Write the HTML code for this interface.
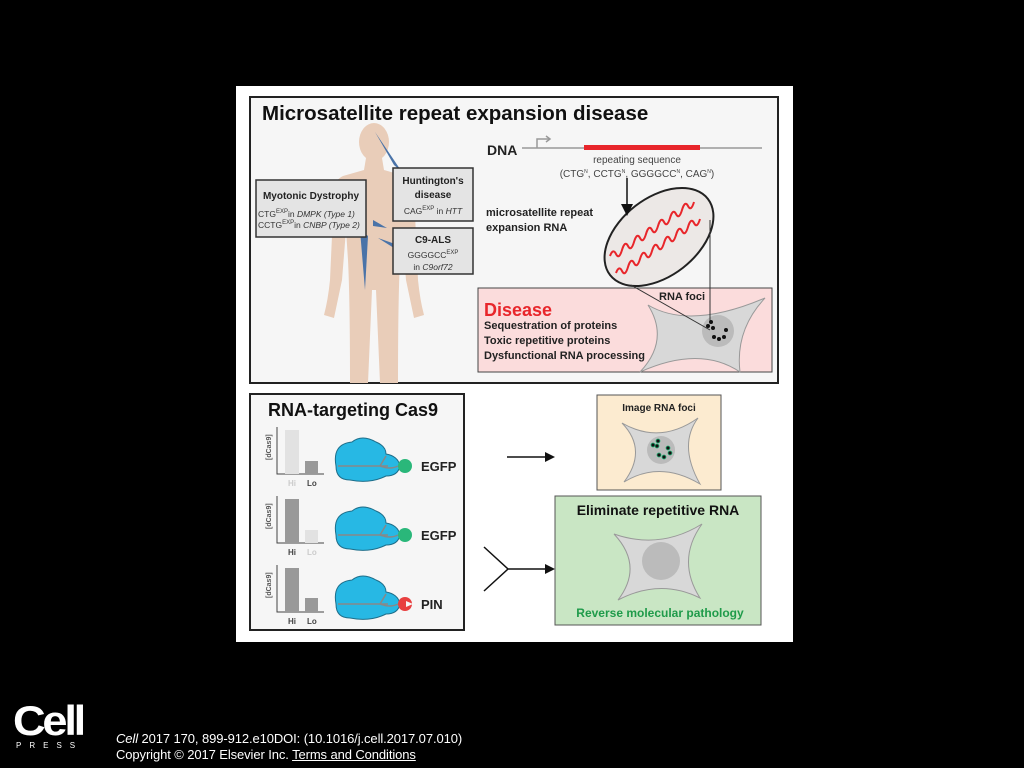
<!DOCTYPE html>
<html><head><meta charset="utf-8"><style>
html,body{margin:0;padding:0;background:#000;width:1024px;height:768px;overflow:hidden}
svg{position:absolute;left:0;top:0}
text{font-family:"Liberation Sans",Arial,sans-serif}
.ft{position:absolute;font-family:"Liberation Sans",Arial,sans-serif;color:#fff;font-size:13px;letter-spacing:-0.1px}
</style></head><body>
<svg width="1024" height="768" viewBox="0 0 1024 768">
<rect x="236" y="86" width="557" height="556" fill="#fff"/>
<rect x="250" y="97" width="528" height="286" fill="#f6f6f6" stroke="#222" stroke-width="2"/>
<text x="262" y="120" font-size="20.5" font-weight="bold" fill="#111">Microsatellite repeat expansion disease</text>
<g fill="#e9cdb9">
<ellipse cx="374" cy="142" rx="15" ry="19"/>
<path d="M366,158 L382,158 L384,170 L405,176 Q414,180 414,192 L418,280 Q420,300 424,315 L414,318 L406,280 L402,230 L400,260 Q398,300 398,383 L380,383 L376,290 L372,290 L368,383 L350,383 Q350,300 348,260 L346,230 L342,280 L334,318 L324,315 Q328,300 330,280 L334,192 Q334,180 343,176 L364,170 Z"/>
</g>
<g fill="#4a73a8">
<polygon points="375,132 394,165 402,172"/>
<polygon points="373,220 387,228 373,226"/>
<polygon points="378,238 395,244 394,248"/>
<polygon points="360,230 368,236 365,290"/>
</g>
<rect x="256" y="180" width="110" height="57" fill="#e4e4e4" stroke="#333" stroke-width="1.5"/>
<text x="311" y="199" font-size="10" font-weight="bold" text-anchor="middle" fill="#222">Myotonic Dystrophy</text>
<text x="258" y="217" font-size="8.5" fill="#333">CTG<tspan font-size="6" dy="-4">EXP</tspan><tspan dy="4">in </tspan><tspan font-style="italic">DMPK (Type 1)</tspan></text>
<text x="258" y="228" font-size="8.5" fill="#333">CCTG<tspan font-size="6" dy="-4">EXP</tspan><tspan dy="4">in </tspan><tspan font-style="italic">CNBP (Type 2)</tspan></text>
<rect x="393" y="168" width="80" height="53" fill="#e4e4e4" stroke="#333" stroke-width="1.5"/>
<text x="433" y="184" font-size="10" font-weight="bold" text-anchor="middle" fill="#222">Huntington's</text>
<text x="433" y="198" font-size="10" font-weight="bold" text-anchor="middle" fill="#222">disease</text>
<text x="433" y="214" font-size="8.5" text-anchor="middle" fill="#333">CAG<tspan font-size="6" dy="-4">EXP</tspan><tspan dy="4"> in </tspan><tspan font-style="italic">HTT</tspan></text>
<rect x="393" y="228" width="80" height="46" fill="#e4e4e4" stroke="#333" stroke-width="1.5"/>
<text x="433" y="243" font-size="10" font-weight="bold" text-anchor="middle" fill="#222">C9-ALS</text>
<text x="433" y="258" font-size="8.5" text-anchor="middle" fill="#333">GGGGCC<tspan font-size="6" dy="-4">EXP</tspan></text>
<text x="433" y="270" font-size="8.5" text-anchor="middle" fill="#333">in <tspan font-style="italic">C9orf72</tspan></text>
<text x="487" y="155" font-size="14" font-weight="bold" fill="#222">DNA</text>
<line x1="522" y1="148" x2="762" y2="148" stroke="#999" stroke-width="1.5"/>
<path d="M537,148 V139 H549" fill="none" stroke="#999" stroke-width="1.5"/>
<path d="M546,136 L550,139 L546,142" fill="none" stroke="#999" stroke-width="1.5"/>
<rect x="584" y="145" width="116" height="5" fill="#e8262b"/>
<text x="637" y="163" font-size="10" text-anchor="middle" fill="#444">repeating sequence</text>
<text x="637" y="177" font-size="10" text-anchor="middle" fill="#444">(CTG<tspan font-size="5" dy="-4">N</tspan><tspan dy="4">, CCTG</tspan><tspan font-size="5" dy="-4">N</tspan><tspan dy="4">, GGGGCC</tspan><tspan font-size="5" dy="-4">N</tspan><tspan dy="4">, CAG</tspan><tspan font-size="5" dy="-4">N</tspan><tspan dy="4">)</tspan></text>
<text x="486" y="216" font-size="11" font-weight="bold" fill="#222">microsatellite repeat</text>
<text x="486" y="231" font-size="11" font-weight="bold" fill="#222">expansion RNA</text>
<rect x="478" y="288" width="294" height="84" fill="#fbdcdc" stroke="#444" stroke-width="1"/>
<text x="484" y="316" font-size="18" font-weight="bold" fill="#e8262b">Disease</text>
<text x="484" y="329" font-size="11" font-weight="bold" fill="#222">Sequestration of proteins</text>
<text x="484" y="344" font-size="11" font-weight="bold" fill="#222">Toxic repetitive proteins</text>
<text x="484" y="359" font-size="11" font-weight="bold" fill="#222">Dysfunctional RNA processing</text>
<text x="659" y="300" font-size="11" font-weight="bold" fill="#222">RNA foci</text>
<path d="M648,305 Q690,330 765,298 Q735,330 740,372 Q700,345 640,372 Q670,340 648,305 Z" fill="#d8d8d8" stroke="#999" stroke-width="1"/>
<circle cx="718" cy="331" r="16" fill="#bbb"/>
<ellipse cx="659" cy="237" rx="62" ry="39" transform="rotate(-38 659 237)" fill="#ece8e6" stroke="#222" stroke-width="2"/>
<path d="M610,256 q3,-8 6,-2 t6,-4 t6,-4 t6,-4 t6,-4 t6,-4 t6,-4 t6,-4 t6,-4 t6,-4 t6,-4 t6,-4 t6,-4 t6,-4" fill="none" stroke="#e8262b" stroke-width="2"/>
<path d="M616,273 q3,-8 6,-2 t6,-4 t6,-4 t6,-4 t6,-4 t6,-4 t6,-4 t6,-4 t6,-4 t6,-4 t6,-4 t6,-4 t6,-4 t6,-4" fill="none" stroke="#e8262b" stroke-width="2"/>
<line x1="627" y1="178" x2="627" y2="210" stroke="#111" stroke-width="1.5"/>
<path d="M621,204 L627,216 L633,204 Z" fill="#111"/>
<line x1="631" y1="285" x2="710" y2="330" stroke="#333" stroke-width="1"/>
<line x1="710" y1="220" x2="710" y2="322" stroke="#333" stroke-width="1"/>
<g fill="#111"><circle cx="711" cy="322" r="2"/><circle cx="708" cy="326" r="2"/><circle cx="713" cy="328" r="2"/><circle cx="726" cy="330" r="2"/><circle cx="714" cy="337" r="2"/><circle cx="719" cy="339" r="2"/><circle cx="724" cy="337" r="2"/></g>
<rect x="250" y="394" width="214" height="236" fill="#f6f6f6" stroke="#222" stroke-width="2"/>
<text x="268" y="416" font-size="18" font-weight="bold" fill="#111">RNA-targeting Cas9</text>
<g font-size="7" font-weight="bold" fill="#555">
<text transform="translate(271,460) rotate(-90)">[dCas9]</text>
<text transform="translate(271,529) rotate(-90)">[dCas9]</text>
<text transform="translate(271,598) rotate(-90)">[dCas9]</text>
</g>
<g stroke="#444" stroke-width="1" fill="none">
<path d="M277,427 V474 H324"/><path d="M277,496 V543 H324"/><path d="M277,565 V612 H324"/>
</g>
<rect x="285" y="430" width="14" height="44" fill="#e2e2e2"/><rect x="305" y="461" width="13" height="13" fill="#999"/>
<rect x="285" y="499" width="14" height="44" fill="#999"/><rect x="305" y="530" width="13" height="13" fill="#e2e2e2"/>
<rect x="285" y="568" width="14" height="44" fill="#999"/><rect x="305" y="598" width="13" height="14" fill="#999"/>
<g font-size="8" font-weight="bold">
<text x="288" y="486" fill="#ccc">Hi</text><text x="307" y="486" fill="#444">Lo</text>
<text x="288" y="555" fill="#444">Hi</text><text x="307" y="555" fill="#ccc">Lo</text>
<text x="288" y="624" fill="#444">Hi</text><text x="307" y="624" fill="#444">Lo</text>
</g>
<g id="cas">
<path d="M336,466 Q332,444 352,442 Q362,434 376,442 Q386,446 386,454 Q398,456 400,466 Q398,476 386,476 Q370,484 350,480 Q336,480 336,466 Z" fill="#27b8e4" stroke="#1e6e8a" stroke-width="1"/>
<path d="M338,466 H388 M380,466 L386,456 M380,466 Q390,470 398,466" fill="none" stroke="#888" stroke-width="1.5"/>
</g>
<use href="#cas" y="69"/><use href="#cas" y="138"/>
<circle cx="405" cy="466" r="7" fill="#2ab77a"/>
<circle cx="405" cy="535" r="7" fill="#2ab77a"/>
<circle cx="405" cy="604" r="7" fill="#e84040"/><path d="M406,601 L413,604 L406,607 Z" fill="#f6f6f6"/>
<g font-size="13" font-weight="bold" fill="#222">
<text x="421" y="471">EGFP</text><text x="421" y="540">EGFP</text><text x="421" y="609">PIN</text>
</g>
<line x1="507" y1="457" x2="547" y2="457" stroke="#111" stroke-width="1.5"/><path d="M545,452 L555,457 L545,462 Z" fill="#111"/>
<path d="M484,547 L508,569 L484,591 M508,569 H547" fill="none" stroke="#111" stroke-width="1.5"/><path d="M545,564 L555,569 L545,574 Z" fill="#111"/>
<rect x="597" y="395" width="124" height="95" fill="#fcebd0" stroke="#555" stroke-width="1"/>
<text x="659" y="411" font-size="10" font-weight="bold" text-anchor="middle" fill="#222">Image RNA foci</text>
<path d="M622,423 Q660,445 698,418 Q678,445 700,484 Q660,460 624,482 Q648,450 622,423 Z" fill="#d8d8d8" stroke="#999" stroke-width="1"/>
<circle cx="661" cy="450" r="14" fill="#bbb"/>
<g fill="#111" stroke="#2ab77a" stroke-width="0.8"><circle cx="653" cy="445" r="2"/><circle cx="658" cy="441" r="2"/><circle cx="657" cy="446" r="2"/><circle cx="668" cy="448" r="2"/><circle cx="659" cy="455" r="2"/><circle cx="664" cy="457" r="2"/><circle cx="670" cy="453" r="2"/></g>
<rect x="555" y="496" width="206" height="129" fill="#c9e6c4" stroke="#555" stroke-width="1"/>
<text x="658" y="515" font-size="14" font-weight="bold" text-anchor="middle" fill="#111">Eliminate repetitive RNA</text>
<path d="M614,534 Q660,550 702,524 Q676,560 700,598 Q660,578 618,600 Q644,566 614,534 Z" fill="#d8d8d8" stroke="#999" stroke-width="1"/>
<circle cx="661" cy="561" r="19" fill="#bbb"/>
<text x="660" y="617" font-size="12" font-weight="bold" text-anchor="middle" fill="#1f9b4a">Reverse molecular pathology</text>
<text x="13" y="735" font-size="42" font-weight="bold" fill="#fff" letter-spacing="-3" textLength="70" lengthAdjust="spacingAndGlyphs">Cell</text>
<text x="16" y="748" font-size="8" fill="#fff" letter-spacing="8">PRESS</text>
</svg>
<div class="ft" style="left:116px;top:731px"><i>Cell</i> 2017 170, 899-912.e10DOI: (10.1016/j.cell.2017.07.010)</div>
<div class="ft" style="left:116px;top:747px">Copyright © 2017 Elsevier Inc. <u>Terms and Conditions</u></div>
</body></html>
